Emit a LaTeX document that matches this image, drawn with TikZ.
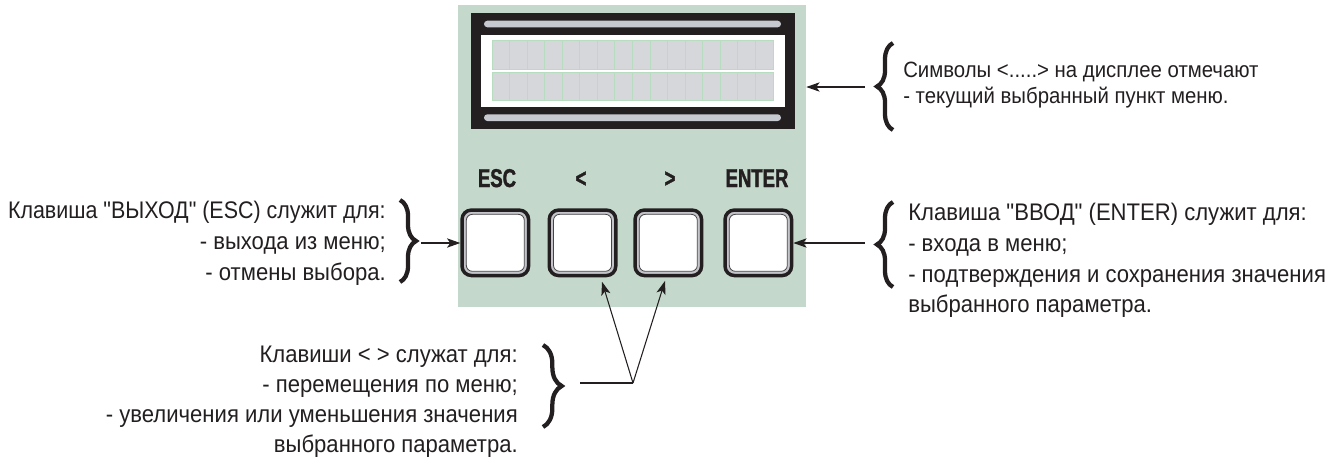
\documentclass[tikz,border=0pt]{standalone}
\usepackage{graphicx}
\usepackage{fontspec}
\setmainfont{Liberation Sans}[FakeStretch=0.92, Ligatures=TeXOff]
\newfontfamily\keyfont{Liberation Sans}[FakeStretch=0.72, BoldFeatures={FakeBold=1.5}]
\usetikzlibrary{arrows.meta, decorations.pathreplacing}

\definecolor{ink}{RGB}{35,31,32}
\definecolor{panelgreen}{RGB}{197,216,204}
\definecolor{lcdframe}{RGB}{35,31,32}
\definecolor{lcdbar}{RGB}{199,201,209}
\definecolor{cellgrey}{RGB}{214,215,218}
\definecolor{cellline}{RGB}{184,220,192}
\definecolor{keygrey}{RGB}{196,197,203}
\definecolor{keyline}{RGB}{70,68,70}

\tikzset{
  panelbox/.style={rectangle, fill=panelgreen, draw=none, inner sep=0pt},
  key/.style={rectangle, rounded corners=7pt, minimum width=49.9pt, minimum height=49.1pt,
    fill=keygrey, draw=ink, line width=2.6pt, inner sep=0pt},
  keyface/.style={fill=white, draw=keyline, line width=0.6pt, rounded corners=4.5pt},
  keylabel/.style={font=\keyfont\bfseries\fontsize{19.3pt}{20pt}\selectfont, text=ink,
    anchor=base, inner sep=0pt},
  note/.style={font=\fontsize{18pt}{22pt}\selectfont, text=ink, inner sep=0pt},
  smallnote/.style={font=\fontsize{16.6pt}{20pt}\selectfont, text=ink, inner sep=0pt},
  leader/.style={draw=ink, line width=0.8pt},
  pointer/.style={leader, -{Stealth[length=10pt, width=7pt, inset=2.5pt]}},
  bracket/.style={draw=ink, line width=3.2pt, decorate,
    decoration={brace, amplitude=#1}},
  bracket/.default=12pt,
}

\begin{document}
\begin{tikzpicture}[x=0.75pt, y=-0.75pt]
\useasboundingbox (0,0) rectangle (1341,465);

% control panel background
\node[panelbox, minimum width=261pt, minimum height=226.5pt] (panel) at (632,156) {};

% LCD: frame, light bars, window and the 2 x 16 character cells
\fill[lcdframe] (471,13) rectangle (795,129);
\fill[lcdbar, rounded corners=2.5pt] (484,20.7) rectangle (781,27.3);
\fill[lcdbar, rounded corners=2.5pt] (484,114.3) rectangle (781,121);
\fill[white] (481,35) rectangle (785,107);
\foreach \top/\h in {40/29, 72/28} {
  \foreach \c in {0,...,15} {
    \filldraw[fill=cellgrey, draw=cellline, line width=0.7pt]
      (492+\c*17.5625,\top) rectangle ++(17.5625,\h);
  }
}

% keys with their captions
\foreach \name/\cx/\lx/\lbl in {esc/495.3/497/ESC, prev/582.5/581/{<}, next/668.3/670/{>}, enter/758.3/757/ENTER} {
  \node[key] (\name) at (\cx,242.8) {};
  \draw[keyface] ([shift={(6,6)}]\name.north west) rectangle ([shift={(-6,-6)}]\name.south east);
  \node[keylabel] (\name-cap) at (\lx,187) {\lbl};
}

% LCD note
\node[smallnote, anchor=base west] (lcd-1) at (903,77) {Символы <.....> на дисплее отмечают};
\node[smallnote, anchor=base west] (lcd-2) at (903,103) {- текущий выбранный пункт меню.};
\draw[bracket] (893,130) -- (893,43);
\coordinate (lcd-from) at (865,87);
\draw[pointer] (lcd-from) -- (panel.east |- lcd-from);

% ESC note
\node[note, anchor=base east] (esc-1) at (386,218) {\scalebox{0.972}[1]{Клавиша "ВЫХОД" (ESC) служит для:}};
\node[note, anchor=base east] (esc-2) at (386,249) {- выхода из меню;};
\node[note, anchor=base east] (esc-3) at (386,280) {- отмены выбора.};
\draw[bracket] (400,200) -- (400,282);
\coordinate (esc-from) at (421,243);
\draw[pointer] (esc-from) -- (esc.west |- esc-from);

% ENTER note
\node[note, anchor=base west] (enter-1) at (908,220) {Клавиша "ВВОД" (ENTER) служит для:};
\node[note, anchor=base west] (enter-2) at (908,251) {- входа в меню;};
\node[note, anchor=base west] (enter-3) at (908,282) {- подтверждения и сохранения значения};
\node[note, anchor=base west] (enter-4) at (908,312) {выбранного параметра.};
\draw[bracket] (893,287) -- (893,202);
\coordinate (enter-from) at (865,243);
\draw[pointer] (enter-from) -- (enter.east |- enter-from);

% arrow keys note
\node[note, anchor=base east] (nav-1) at (518,362) {Клавиши < > служат для:};
\node[note, anchor=base east] (nav-2) at (518,392) {- перемещения по меню;};
\node[note, anchor=base east] (nav-3) at (518,422) {- увеличения или уменьшения значения};
\node[note, anchor=base east] (nav-4) at (518,452) {выбранного параметра.};
\draw[bracket=14pt] (543,345) -- (543,427);
\coordinate (nav-from) at (580,383);
\coordinate (fork) at (633,383);
\draw[leader] (nav-from) -- (fork);
\draw[pointer] (fork) -- ([shift={(19.5,4.5)}]prev.south);
\draw[pointer] (fork) -- ([shift={(-3.3,3.7)}]next.south);
\end{tikzpicture}
\end{document}
